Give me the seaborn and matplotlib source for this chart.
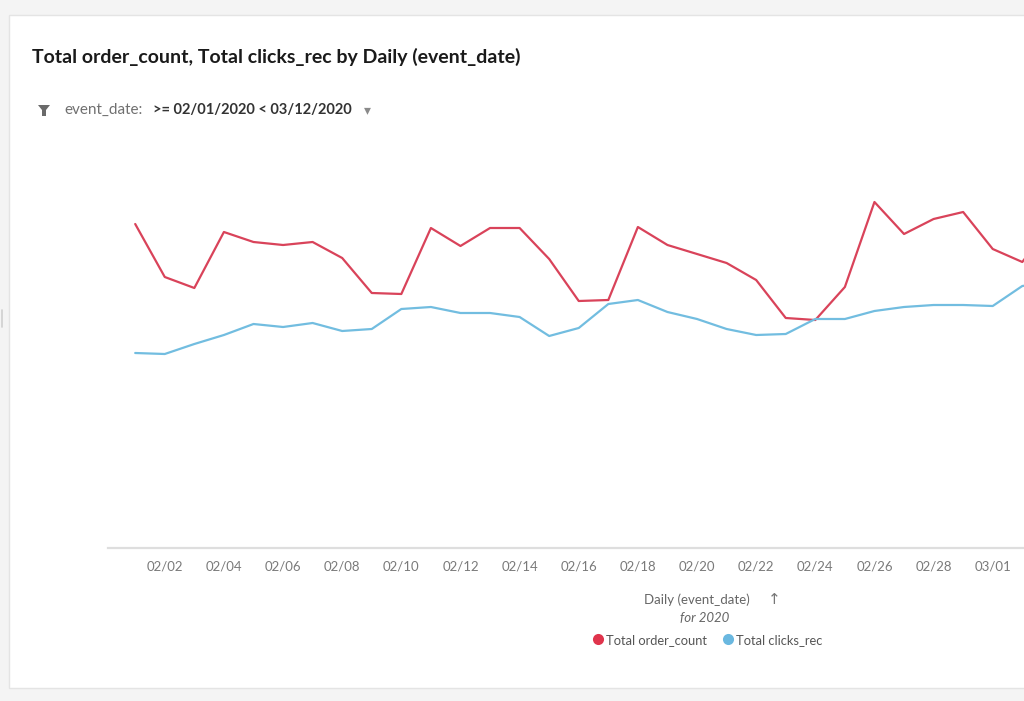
import pandas as pd
import matplotlib.pyplot as plt
import matplotlib.dates as mdates
import seaborn as sns
from matplotlib.lines import Line2D
from matplotlib.patches import Rectangle, Polygon

# Daily values (no y axis shown, so units are relative)
dates = pd.date_range("2020-02-01", "2020-03-03", freq="D")
order_count = [324, 271, 260, 316, 306, 303, 306, 290, 255, 254, 320, 302,
               320, 320, 289, 247, 248, 321, 303, 294, 285, 268, 230, 228,
               261, 346, 314, 329, 336, 299, 286, 325]
clicks_rec = [195, 194, 204, 213, 224, 221, 225, 217, 219, 239, 241, 235,
              235, 231, 212, 220, 244, 248, 236, 229, 219, 213, 214, 229,
              229, 237, 241, 243, 243, 242, 262, 266]
tick_dates = dates[1:30:2]
series_names = ["Total order_count", "Total clicks_rec"]

RED = "#d9435a"
BLUE = "#72bde0"

df = pd.DataFrame({
    "event_date": list(dates) * 2,
    "valor": order_count + clicks_rec,
    "serie": [series_names[0]] * len(dates) + [series_names[1]] * len(dates),
})

sns.set_theme(style="white")
plt.rcParams["font.family"] = ["Lato", "DejaVu Sans"]

W, H = 1024, 701
fig = plt.figure(figsize=(W / 100, H / 100), dpi=100, facecolor="#f4f4f4")

# card background (behind the axes)
fig.patches.append(Rectangle((9 / W, 1 - 688 / H), 1.1, (688 - 15) / H,
                             transform=fig.transFigure, facecolor="white",
                             edgecolor="#e4e4e4", lw=1, zorder=-5))
fig.add_artist(Line2D([1.5 / W, 1.5 / W], [1 - 310 / H, 1 - 327 / H],
                      color="#cfcfcf", lw=1.2))

ax = fig.add_axes([108 / W, 1 - 548 / H, (W - 108) / W, (548 - 140) / H])
ax.set_facecolor("none")
ax.set_zorder(2)

sns.lineplot(data=df, x="event_date", y="valor", hue="serie",
             palette=[RED, BLUE], linewidth=1.6, legend=False, ax=ax)

px_day = 29.57
x0 = mdates.date2num(dates[0])
ax.set_xlim(x0 - 27.2 / px_day, x0 + (W - 135.2) / px_day)
ax.set_ylim(0, 408)

ax.set_xticks(mdates.date2num(tick_dates))
ax.set_xticklabels([d.strftime("%m/%d") for d in tick_dates])
ax.tick_params(axis="x", length=0, pad=9, labelsize=9.5, labelcolor="#7a7a7a")
ax.set_yticks([])
ax.set_xlabel("")
ax.set_ylabel("")
for s in ["top", "right", "left"]:
    ax.spines[s].set_visible(False)
ax.spines["bottom"].set_color("#dedede")
ax.spines["bottom"].set_linewidth(1.6)

# title and filter line
fig.text(32 / W, 1 - 57 / H, "Total order_count, Total clicks_rec by Daily (event_date)",
         fontsize=14, fontweight="bold", color="#1a1a1a", va="center", ha="left")
funnel = [(38, 105), (50, 105), (46, 110), (46, 116), (42, 116), (42, 110)]
fig.patches.append(Polygon([(x / W, 1 - y / H) for x, y in funnel], closed=True,
                           transform=fig.transFigure, facecolor="#6a6a6a",
                           edgecolor="none"))
fig.text(64 / W, 1 - 110 / H, "event_date:", fontsize=11, color="#707070",
         va="center", ha="left")
fig.text(153 / W, 1 - 110 / H, ">= 02/01/2020 < 03/12/2020", fontsize=10.5,
         fontweight="bold", color="#333333", va="center", ha="left")
fig.text(367 / W, 1 - 110 / H, "▾", fontsize=10, color="#8a8a8a",
         va="center", ha="center", family=["DejaVu Sans"])

# x axis caption
fig.text(697 / W, 1 - 600 / H, "Daily (event_date)", fontsize=9.5, color="#666666",
         va="center", ha="center")
fig.text(774 / W, 1 - 600 / H, "↑", fontsize=11, color="#777777",
         va="center", ha="center", family=["DejaVu Sans"])
fig.text(705 / W, 1 - 618 / H, "for 2020", fontsize=9.5, color="#666666",
         style="italic", va="center", ha="center")

handles = [Line2D([], [], marker="o", linestyle="none", markersize=8,
                  markerfacecolor=c, markeredgecolor="none")
           for c in ["#e0344c", "#6ab8e0"]]
leg = fig.legend(handles, series_names, loc="center", bbox_to_anchor=(707 / W, 1 - 640 / H),
                 ncol=2, frameon=False, fontsize=9.3, handletextpad=0.1,
                 columnspacing=1.1, handlelength=1.0, borderaxespad=0)
for t in leg.get_texts():
    t.set_color("#555555")

fig.savefig("out.png", dpi=100, facecolor=fig.get_facecolor())
